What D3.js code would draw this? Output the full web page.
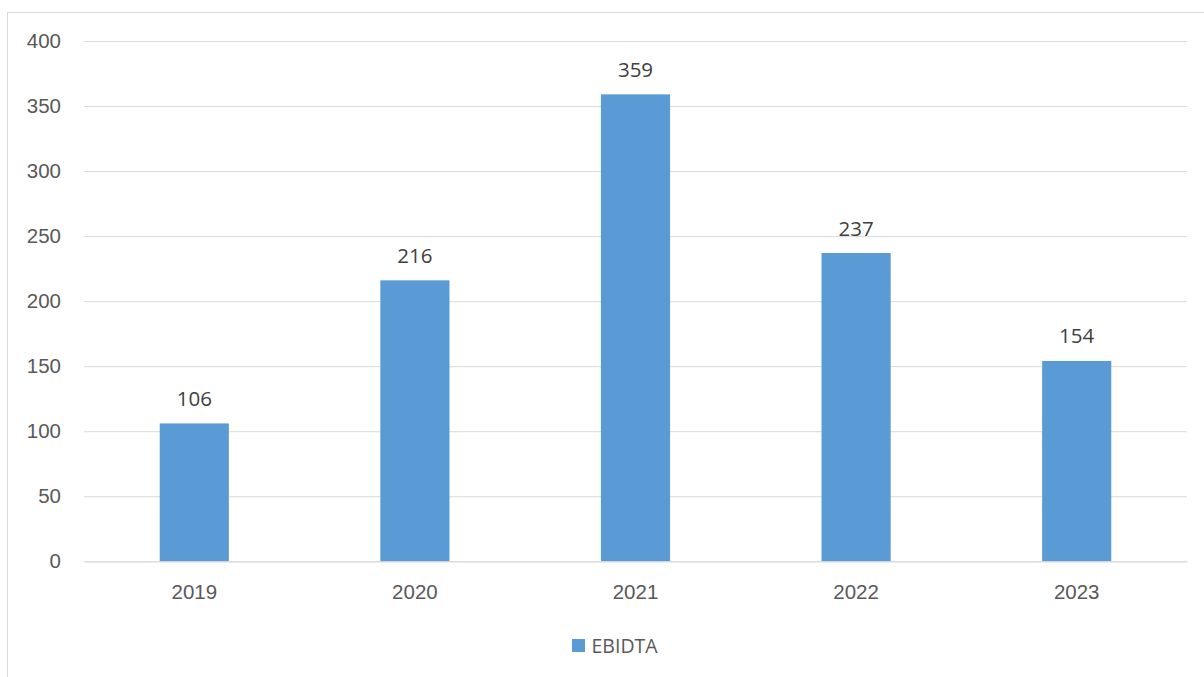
<!DOCTYPE html>
<html>
<head>
<meta charset="utf-8">
<script src="https://cdn.jsdelivr.net/npm/d3@7"></script>
<style>
  html, body { margin: 0; padding: 0; background: #fff; }
  svg { display: block; font-family: "Open Sans", "Noto Sans", sans-serif; }
</style>
</head>
<body>
<svg id="chart" width="1204" height="677"></svg>
<script>
// EBIDTA by year
const years = ["2019", "2020", "2021", "2022", "2023"];
const ebidta = [106, 216, 359, 237, 154];
const yTicks = [0, 50, 100, 150, 200, 250, 300, 350, 400];
const seriesName = "EBIDTA";

const svg = d3.select("#chart");
const W = 1204, H = 677;
const plot = { left: 84, right: 1187, top: 41, bottom: 561.3 };
const barColor = "#5B9BD5";
const gridColor = "#d9d9d9";
const textColor = "#595959";

// chart frame
svg.append("rect")
  .attr("x", 7.5).attr("y", 12.5)
  .attr("width", W).attr("height", H)
  .attr("fill", "none").attr("stroke", gridColor).attr("stroke-width", 1);

const x = d3.scaleBand().domain(years).range([plot.left, plot.right]).padding(0);
const y = d3.scaleLinear().domain([0, 400]).range([plot.bottom, plot.top]);
const barW = x.bandwidth() / 3.19; // gap width 219%

// horizontal gridlines
const yAxis = d3.axisLeft(y).tickValues(yTicks).tickSize(-(plot.right - plot.left)).tickPadding(23);
const gy = svg.append("g").attr("transform", `translate(${plot.left},0)`).call(yAxis);
gy.select(".domain").remove();
gy.selectAll(".tick line").attr("stroke", gridColor).attr("stroke-width", 1);
gy.selectAll(".tick text")
  .attr("fill", textColor).attr("font-size", "20.5px");

// bars
svg.append("g").selectAll("rect")
  .data(years.map((yr, i) => ({ yr, v: ebidta[i] })))
  .join("rect")
  .attr("x", d => x(d.yr) + (x.bandwidth() - barW) / 2)
  .attr("y", d => y(d.v))
  .attr("width", barW)
  .attr("height", d => y(0) - y(d.v))
  .attr("fill", barColor);

// value labels
svg.append("g").selectAll("text")
  .data(years.map((yr, i) => ({ yr, v: ebidta[i] })))
  .join("text")
  .attr("x", d => x(d.yr) + x.bandwidth() / 2)
  .attr("y", d => y(d.v) - 17.5)
  .attr("text-anchor", "middle")
  .attr("fill", "#404040")
  .attr("font-size", "20.5px")
  .text(d => d.v);

// category axis
const xAxis = d3.axisBottom(x).tickSize(0).tickPadding(23);
const gx = svg.append("g").attr("transform", `translate(0,${plot.bottom})`).call(xAxis);
gx.select(".domain").attr("stroke", gridColor).attr("stroke-width", 1);
gx.selectAll(".tick text").attr("fill", textColor).attr("font-size", "20.5px");

// legend
const lg = svg.append("g").attr("transform", "translate(572,639)");
lg.append("rect").attr("width", 13).attr("height", 13).attr("fill", barColor);
lg.append("text")
  .attr("x", 19.5).attr("y", 13.5)
  .attr("fill", textColor).attr("font-size", "19.5px")
  .text(seriesName);
</script>
</body>
</html>
